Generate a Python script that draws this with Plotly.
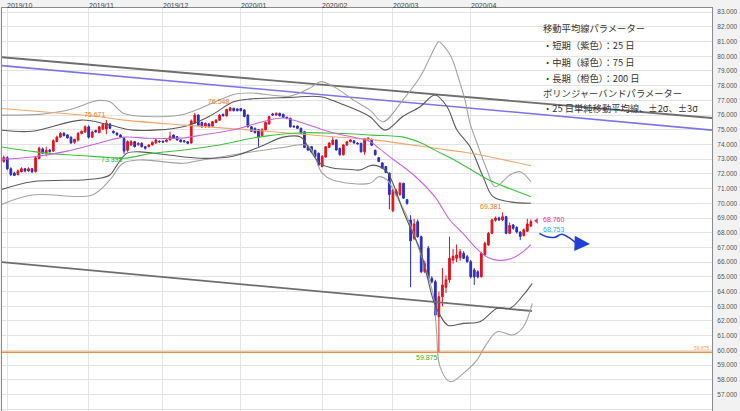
import plotly.graph_objects as go
import pandas as pd

# ---------------- data ----------------
dates = pd.bdate_range("2019-09-30", periods=150)
idx = list(range(len(dates)))

opens = [72.85, 73.10, 72.35, 72.05, 71.95, 72.15, 72.35, 72.20, 72.35, 72.15,
         73.05, 73.70, 73.40, 73.62, 73.55, 74.20, 74.50, 74.76, 74.65, 74.50,
         74.15, 74.30, 74.75, 74.85, 75.20, 74.50, 74.95, 74.80, 75.05, 75.05,
         75.40, 74.90, 74.78, 74.64, 74.42, 73.60, 73.97, 74.19, 73.98, 74.08,
         73.85, 73.85, 73.97, 74.10, 74.22, 74.22, 74.19, 74.31, 74.64, 74.53,
         74.31, 74.25, 74.19, 74.10, 75.45, 76.00, 75.50, 75.20, 75.40, 75.25,
         75.50, 75.65, 76.05, 75.95, 76.30, 76.46, 76.42, 76.45, 76.35, 76.00,
         75.20, 75.10, 75.00, 74.60, 75.00, 75.40, 76.08, 76.00, 76.12, 76.05,
         75.85, 75.78, 75.25, 75.25, 75.10, 74.87, 73.85, 73.85, 73.60, 73.40,
         72.50, 73.15, 73.80, 74.00, 74.31, 73.74, 73.30, 73.97, 74.19, 74.25,
         74.10, 74.08, 73.50, 74.30, 74.35, 73.60, 73.10, 72.75, 72.50, 72.05,
         69.50, 70.60, 70.60, 71.36, 70.25, 68.87, 67.60, 68.75, 67.73, 65.35,
         66.94, 64.90, 64.67, 62.30, 63.65, 64.30, 64.80, 66.15, 66.26, 66.30,
         66.60, 66.37, 66.03, 65.47, 65.35, 65.00, 66.50, 67.17, 67.96, 68.85,
         69.00, 68.87, 69.09, 67.96, 68.53, 68.35, 68.05, 67.80, 68.10, 68.45]
closes = [73.12, 72.35, 71.95, 71.90, 72.20, 72.35, 72.20, 72.35, 72.15, 73.10,
          73.75, 73.40, 73.60, 73.52, 74.25, 74.50, 74.75, 74.60, 74.45, 74.10,
          74.35, 74.75, 74.90, 75.20, 74.50, 74.85, 74.85, 75.20, 75.35, 75.45,
          75.10, 74.80, 74.65, 74.50, 73.55, 74.20, 74.19, 73.85, 74.08, 73.85,
          73.74, 73.97, 74.15, 74.31, 74.18, 74.17, 74.31, 74.53, 74.42, 74.31,
          74.19, 74.19, 74.08, 75.60, 76.00, 75.30, 75.20, 75.44, 75.20, 75.55,
          75.66, 76.00, 75.95, 76.38, 76.50, 76.30, 76.30, 76.30, 75.90, 75.20,
          74.90, 74.80, 74.50, 75.00, 75.50, 75.90, 76.00, 76.12, 75.95, 75.85,
          75.78, 75.20, 75.20, 75.10, 74.76, 73.80, 73.63, 73.50, 73.17, 72.60,
          73.20, 73.85, 74.10, 74.30, 73.63, 73.30, 73.97, 74.19, 74.31, 74.10,
          74.05, 73.50, 74.40, 74.42, 73.95, 73.30, 72.85, 72.40, 72.10, 70.60,
          70.90, 70.80, 71.36, 70.35, 70.00, 67.45, 68.60, 67.73, 65.35, 65.90,
          64.90, 64.67, 62.40, 63.65, 64.45, 64.80, 66.26, 66.40, 66.49, 66.70,
          66.26, 66.03, 65.00, 65.00, 65.00, 66.60, 67.28, 67.96, 68.87, 69.00,
          68.87, 69.09, 67.96, 68.50, 68.30, 68.05, 67.75, 68.20, 68.60, 68.76]
highs = [73.25, 73.20, 72.45, 72.15, 72.30, 72.45, 72.40, 72.45, 72.40, 73.20,
         73.85, 73.80, 73.85, 73.70, 74.35, 74.60, 74.85, 74.85, 74.70, 74.55,
         74.40, 74.85, 74.95, 75.30, 75.30, 74.95, 75.00, 75.25, 75.45, 75.671,
         75.45, 74.95, 74.82, 74.70, 74.50, 74.28, 74.30, 74.25, 74.15, 74.15,
         73.90, 74.02, 74.20, 74.38, 74.28, 74.27, 74.36, 74.87, 74.68, 74.58,
         74.36, 74.30, 74.24, 75.70, 76.15, 76.05, 75.55, 75.50, 75.46, 75.60,
         75.72, 76.05, 76.10, 76.42, 76.548, 76.50, 76.45, 76.48, 76.40, 76.05,
         75.25, 75.15, 75.05, 75.10, 75.55, 75.95, 76.15, 76.18, 76.16, 76.10,
         75.90, 75.82, 75.30, 75.30, 75.15, 74.92, 73.95, 73.90, 73.65, 73.45,
         73.25, 73.90, 74.15, 74.50, 74.35, 73.78, 74.02, 74.25, 74.36, 74.30,
         74.15, 74.12, 74.45, 74.50, 74.40, 73.65, 73.15, 72.80, 72.55, 72.10,
         71.00, 70.95, 71.45, 71.40, 70.30, 69.20, 68.95, 68.90, 67.80, 66.10,
         67.10, 65.05, 64.80, 64.00, 65.60, 65.10, 67.73, 66.90, 67.20, 66.90,
         66.75, 66.50, 66.15, 65.60, 65.45, 66.70, 67.40, 68.05, 68.95, 69.10,
         69.10, 69.381, 69.15, 68.70, 68.60, 68.45, 68.10, 68.30, 68.95, 68.90]
lows = [72.75, 72.25, 71.85, 71.85, 71.90, 72.10, 72.10, 72.15, 72.05, 72.10,
        73.00, 73.35, 73.20, 73.45, 73.50, 74.15, 74.45, 74.55, 74.40, 74.05,
        74.05, 74.20, 74.70, 74.80, 74.40, 74.45, 74.80, 74.80, 75.00, 74.70,
        75.05, 74.75, 74.60, 74.45, 73.335, 73.50, 73.90, 73.80, 73.92, 73.80,
        73.65, 73.80, 73.92, 74.05, 74.12, 74.12, 74.15, 74.28, 74.38, 74.26,
        74.14, 74.14, 74.02, 74.05, 75.40, 75.25, 75.15, 75.15, 75.15, 75.20,
        75.45, 75.60, 75.90, 75.90, 76.25, 76.25, 76.25, 76.25, 75.85, 75.15,
        74.85, 74.75, 73.85, 74.55, 74.95, 75.35, 75.95, 75.95, 75.90, 75.80,
        75.72, 75.15, 75.15, 75.05, 74.70, 73.75, 73.55, 73.45, 73.10, 72.50,
        72.45, 73.10, 73.75, 73.95, 73.58, 73.25, 73.25, 73.90, 74.15, 74.05,
        74.00, 73.45, 73.30, 74.25, 73.90, 73.25, 72.80, 72.35, 72.05, 69.60,
        69.40, 70.50, 70.50, 70.30, 69.90, 64.30, 67.50, 67.65, 65.25, 65.25,
        64.80, 64.55, 62.30, 59.875, 63.00, 63.90, 64.60, 65.90, 66.00, 66.10,
        66.20, 65.95, 64.90, 64.45, 64.90, 64.95, 66.45, 67.10, 67.90, 68.75,
        68.80, 68.80, 67.90, 67.90, 68.20, 67.95, 67.50, 67.75, 68.05, 68.40]

ma25_x = [-1, 8, 18, 27, 34, 41, 51, 56, 65, 74, 79, 84, 93, 103.5, 106, 110, 114, 118, 122, 126, 130, 134, 137, 140, 144, 147, 149]
ma25_y = [73.0, 73.15, 73.55, 74.1, 74.5, 74.42, 74.45, 74.65, 75.0, 75.6, 75.8, 75.5, 74.8, 74.2, 73.75, 73.0, 72.3, 71.45, 70.4, 68.9, 67.9, 66.85, 66.3, 66.12, 66.3, 66.75, 67.2]
ma75_x = [-1, 9, 18, 28, 34, 42, 51, 61, 70, 75, 79, 84, 94, 104, 113, 118, 122, 127, 132, 137, 143, 149]
ma75_y = [73.85, 73.5, 73.3, 73.15, 73.06, 73.4, 73.63, 73.97, 74.42, 74.6, 74.71, 74.8, 74.76, 74.64, 74.5, 74.1, 73.6, 73.0, 72.3, 71.6, 71.0, 70.45]
ma200_x = [-1, 27, 34, 51, 70, 93, 103.5, 122, 132, 149]
ma200_y = [76.46, 75.89, 75.66, 75.32, 74.98, 74.53, 74.35, 73.74, 73.4, 72.56]

# Bollinger bands (25-day, +-2 sigma dark, +-3 sigma light)
bb_up3_x = [-1, 10, 19, 25, 27, 30, 34, 41, 50, 56, 65, 70, 81, 87, 89.5, 93.5, 99, 103.5, 107.2, 112.8, 117.7, 122.5, 123, 126.2, 129, 130.4, 131.8, 133.8, 136.6, 138.9, 143.1, 146, 149]
bb_up3_y = [76.0, 76.05, 76.4, 76.9, 77.0, 76.9, 76.1, 75.9, 76.0, 76.5, 77.4, 77.5, 77.3, 77.9, 78.27, 77.9, 77.0, 76.34, 75.55, 77.02, 78.6, 80.88, 80.99, 80.08, 78.16, 77.0, 75.44, 74.08, 72.27, 71.13, 71.93, 72.15, 71.47]
bb_up2_x = [-1, 8, 22, 30, 36.5, 50.7, 58, 65, 70, 81, 89.5, 95, 103.5, 107.8, 112.8, 117.7, 121.9, 125.3, 128.1, 131.8, 135.5, 138.3, 143.1, 149]
bb_up2_y = [74.98, 74.9, 75.66, 75.32, 74.98, 75.21, 75.9, 76.9, 77.1, 77.2, 77.25, 76.8, 75.89, 74.98, 75.9, 76.57, 77.36, 76.57, 74.98, 73.85, 71.8, 70.45, 70.1, 70.0]
bb_lo2_x = [-1, 8, 22, 27, 30, 32, 34.8, 38.5, 46, 55.5, 64.8, 72.4, 79, 84, 86.6, 89.4, 93, 98, 100.7, 104.4, 108.3, 110, 112.8, 114.8, 117.7, 119.7, 121.4, 123.3, 125.6, 129.9, 134.6, 139.5, 143.1, 146.9, 149.4]
bb_lo2_y = [70.91, 71.47, 71.59, 71.7, 71.93, 72.6, 73.4, 73.5, 73.3, 73.06, 73.2, 73.85, 74.5, 74.5, 73.6, 72.72, 72.4, 72.3, 72.27, 72.6, 72.15, 71.36, 69.55, 68.41, 66.83, 65.01, 63.43, 62.41, 61.7, 61.84, 61.95, 62.86, 62.86, 63.77, 64.56]
bb_lo3_x = [-1, 8, 25, 30, 33.7, 38.5, 50.7, 55, 79, 86, 90, 93, 103.5, 106, 108.3, 111.1, 114, 116.8, 119.7, 121.4, 122.3, 123.3, 126.2, 129.9, 133.8, 136, 139.5, 144, 146.9, 149.4]
bb_lo3_y = [69.89, 70.57, 70.57, 71.59, 72.72, 72.95, 72.72, 72.9, 73.8, 73.9, 72.05, 71.59, 71.36, 71.81, 71.6, 70.45, 69.09, 67.28, 65.2, 63.77, 61.4, 58.9, 57.87, 58.44, 59.35, 60.26, 61.27, 61.05, 61.61, 63.2]

# hand-drawn trend lines and support level
trend_top_x, trend_top_y = [-0.5, 200.2], [79.93, 75.80]
trend_blue_x, trend_blue_y = [-0.5, 200.2], [79.36, 74.98]
trend_low_x, trend_low_y = [-0.5, 149.3], [66.00, 62.68]
support_level = 59.875

# forecast squiggle
arrow_x = [151.4, 153.5, 155.8, 157.7, 160.1, 162.0, 163.9]
arrow_y = [67.96, 67.73, 67.69, 67.90, 67.62, 67.28, 67.24]

# labelled extremes: (index, value, kind)
extremes = [(29, 75.671, "high", "#f07a1e"), (64, 76.548, "high", "#f07a1e"),
            (34, 73.335, "low", "#22b822"), (141, 69.381, "high", "#f07a1e"),
            (123, 59.875, "low", "#22b822")]
last_bid, last_ask = 68.760, 68.753

legend_lines = ["移動平均線パラメーター",
                "・短期（紫色）：25 日",
                "・中期（緑色）：75 日",
                "・長期（橙色）：200 日",
                "ボリンジャーバンドパラメーター",
                "・25 日単純移動平均線、±2σ、±3σ"]

# ---------------- figure ----------------
fig = go.Figure()

def line(x, y, color, width, shape="spline"):
    fig.add_trace(go.Scatter(x=x, y=y, mode="lines", hoverinfo="skip",
                             line=dict(color=color, width=width, shape=shape),
                             showlegend=False))

line(trend_top_x, trend_top_y, "#6e6e6e", 1.8, "linear")
line(trend_blue_x, trend_blue_y, "#7b74ea", 1.6, "linear")
line(trend_low_x, trend_low_y, "#6e6e6e", 1.8, "linear")
line([-0.5, 200.2], [support_level, support_level], "#f08a3c", 1.4, "linear")

line(bb_up3_x, bb_up3_y, "#a3a3a3", 1.1)
line(bb_lo3_x, bb_lo3_y, "#a3a3a3", 1.1)
line(bb_up2_x, bb_up2_y, "#5a5a5a", 1.1)
line(bb_lo2_x, bb_lo2_y, "#5a5a5a", 1.1)
line(ma200_x, ma200_y, "#f2a56a", 1.1)
line(ma75_x, ma75_y, "#3cc43c", 1.1)
line(ma25_x, ma25_y, "#c865dc", 1.1)

fig.add_trace(go.Candlestick(
    x=idx, open=opens, high=highs, low=lows, close=closes,
    increasing=dict(line=dict(color="#e3121d", width=1), fillcolor="#e3121d"),
    decreasing=dict(line=dict(color="#2c2cc4", width=1), fillcolor="#2c2cc4"),
    whiskerwidth=0, hoverinfo="skip", showlegend=False))

line(arrow_x, arrow_y, "#1f3fd8", 1.6)
fig.add_annotation(x=arrow_x[-1] + 1.8, y=arrow_y[-1], ax=arrow_x[-1] - 0.5, ay=arrow_y[-1] + 0.02,
                   xref="x", yref="y", axref="x", ayref="y", text="", showarrow=True,
                   arrowhead=2, arrowsize=2.2, arrowwidth=1.4, arrowcolor="#1f3fd8")

fig.add_trace(go.Scatter(x=[idx[-1] + 1.6], y=[last_bid + 0.05], mode="markers",
                         marker=dict(symbol="triangle-left", size=5, color="#e8307a"),
                         hoverinfo="skip", showlegend=False))

lab_font = "Liberation Sans, Arial, sans-serif"
for i, v, kind, col in extremes:
    fig.add_annotation(x=i + 0.4, y=v, xref="x", yref="y", text=f"{v:.3f}",
                       showarrow=False, xanchor="right",
                       yanchor="bottom" if kind == "high" else "top",
                       font=dict(size=7, color=col, family=lab_font))

fig.add_annotation(x=idx[-1] + 2.8, y=last_bid, text=f"{last_bid:.3f}", showarrow=False,
                   xanchor="left", yanchor="bottom", yshift=-3,
                   font=dict(size=7, color="#e8307a", family=lab_font))
fig.add_annotation(x=idx[-1] + 2.8, y=last_ask, text=f"{last_ask:.3f}", showarrow=False,
                   xanchor="left", yanchor="top", yshift=-2,
                   font=dict(size=7, color="#1fb4dc", family=lab_font))
fig.add_annotation(x=1, xref="paper", y=support_level, yref="y", text=f"{support_level:.3f}",
                   showarrow=False, xanchor="right", yanchor="bottom", yshift=-1,
                   font=dict(size=5, color="#f2a070", family=lab_font))

legend_y = [28.3, 45, 61.7, 77.7, 92.7, 108.3]
for txt, ypx in zip(legend_lines, legend_y):
    fig.add_annotation(x=(541 - 2) / 710, y=1 - (ypx - 8) / 403, xref="paper", yref="paper",
                       text=txt, showarrow=False, xanchor="left", yanchor="middle",
                       font=dict(size=9.3, color="#333333", family="Noto Sans CJK JP"))

# month labels in the header strip, left-aligned at each month's first trading day
month_pos = [i for i in idx[1:] if dates[i].month != dates[i - 1].month]
month_txt = [f"{dates[i].year}/{dates[i].month:02d}" for i in month_pos]
for p, t in zip(month_pos, month_txt):
    fig.add_annotation(x=p, xref="x", y=1, yref="paper", text=t, showarrow=False,
                       xanchor="left", yanchor="bottom", xshift=-1, yshift=-2,
                       borderpad=0, font=dict(size=7, color="#444444", family=lab_font))

fig.update_layout(
    width=740, height=411,
    margin=dict(l=2, r=28, t=8, b=0, autoexpand=False),
    paper_bgcolor="#f2f2f2", plot_bgcolor="#ffffff",
    showlegend=False,
    xaxis=dict(range=[-0.5, 200.2], side="top", tickvals=month_pos,
               showticklabels=False, ticks="", showgrid=True,
               gridcolor="#e3e3e3", gridwidth=1, zeroline=False,
               showline=True, linecolor="#8a8a8a", linewidth=1, mirror=True,
               rangeslider=dict(visible=False), fixedrange=True),
    yaxis=dict(range=[55.88, 83.28], side="right", tickvals=list(range(56, 84)),
               tickformat=".3f", showgrid=True, gridcolor="#e3e3e3", gridwidth=1,
               zeroline=False, showline=True, linecolor="#8a8a8a", linewidth=1, mirror=True,
               ticks="", ticklabelstandoff=3,
               tickfont=dict(size=6.5, color="#555555", family=lab_font), fixedrange=True),
)

fig.write_html("out.html", config={"displayModeBar": False},
               post_script="document.body.style.margin='0px';document.body.style.overflow='hidden';")
